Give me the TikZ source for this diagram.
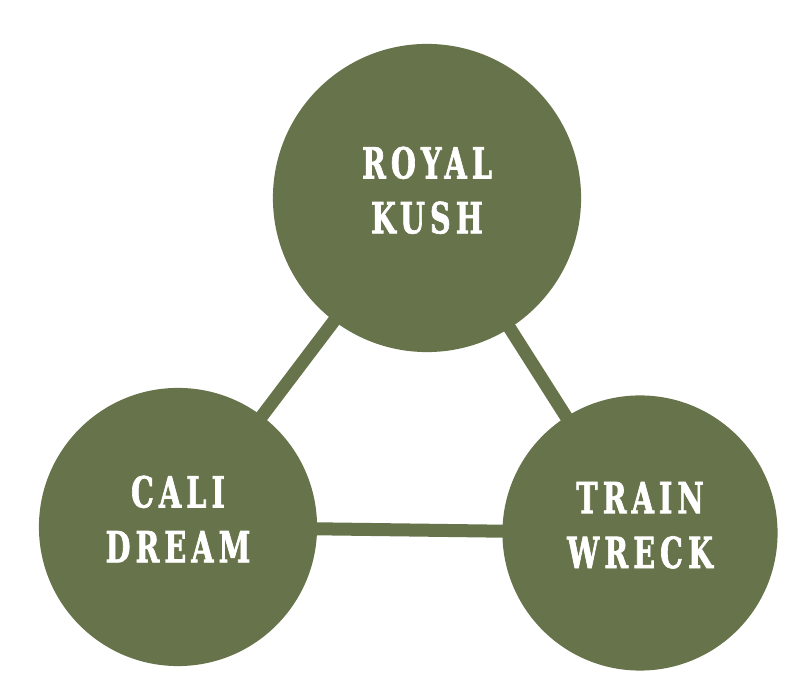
\documentclass[tikz,border=0pt]{standalone}
\usepackage{fontspec}
\newfontfamily\strainfont[FakeStretch=0.74,LetterSpace=12,FakeBold=1.5]{DejaVu Serif Condensed}
\usetikzlibrary{backgrounds}
\definecolor{kushgreen}{RGB}{103,115,74}

\begin{document}
\begin{tikzpicture}[x=0.01cm,y=-0.01cm]
    \tikzstyle{strain}=[circle, fill=kushgreen, text=white, inner sep=0pt,
    minimum size=2.78cm, align=center, text depth=0.16cm,
    font=\strainfont\bfseries\fontsize{12.2}{15.6}\selectfont]
    \tikzstyle{link}=[draw=kushgreen, line width=0.13cm]
\useasboundingbox (0,0) rectangle (800,698);

\node[strain, minimum size=3.08cm] (royal) at (427,198) {ROYAL\\KUSH};
\node[strain] (cali) at (178,527) {CALI\\DREAM};
\node[strain, minimum size=2.75cm] (train) at (640,533) {TRAIN\\WRECK};

\begin{pgfonlayer}{background}
\draw[link] (royal.center) -- (cali.center);
\draw[link] (royal.center) -- (train.center);
\draw[link] (cali.center) -- (train.center);
\end{pgfonlayer}

\end{tikzpicture}
\end{document}
